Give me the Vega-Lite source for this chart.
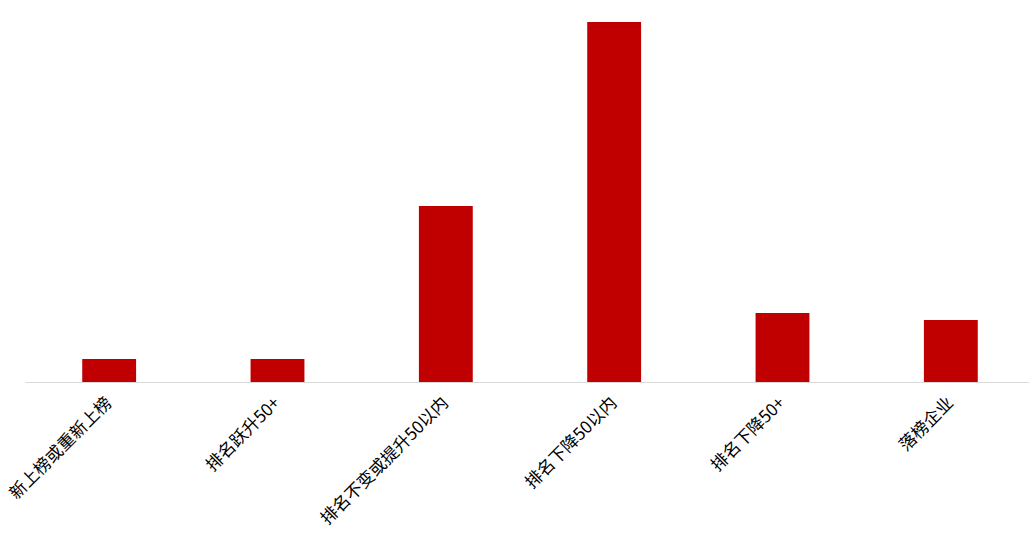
{
  "$schema": "https://vega.github.io/schema/vega-lite/v6.json",
  "autosize": "none",
  "width": 1010,
  "height": 360,
  "padding": {"left": 25, "top": 22, "right": 0, "bottom": 154},
  "background": "white",
  "config": {"view": {"stroke": null}, "font": "Noto Sans CJK SC"},
  "data": {
    "values": [
      {"category": "新上榜或重新上榜", "value": 23},
      {"category": "排名跃升50+", "value": 23},
      {"category": "排名不变或提升50以内", "value": 176},
      {"category": "排名下降50以内", "value": 360},
      {"category": "排名下降50+", "value": 69},
      {"category": "落榜企业", "value": 62}
    ]
  },
  "mark": {"type": "bar", "color": "#c00000"},
  "encoding": {
    "x": {
      "field": "category",
      "type": "nominal",
      "sort": null,
      "scale": {"paddingInner": 0.68, "paddingOuter": 0.34},
      "axis": {
        "title": null,
        "labelAngle": -45,
        "labelAlign": "right",
        "labelBaseline": "middle",
        "labelFontSize": 17,
        "labelColor": "#000000",
        "labelPadding": 18,
        "ticks": false,
        "domainColor": "#d9d9d9",
        "domainWidth": 1,
        "labelLimit": 300
      }
    },
    "y": {
      "field": "value",
      "type": "quantitative",
      "scale": {"domain": [0, 360], "nice": false},
      "axis": null
    }
  }
}
